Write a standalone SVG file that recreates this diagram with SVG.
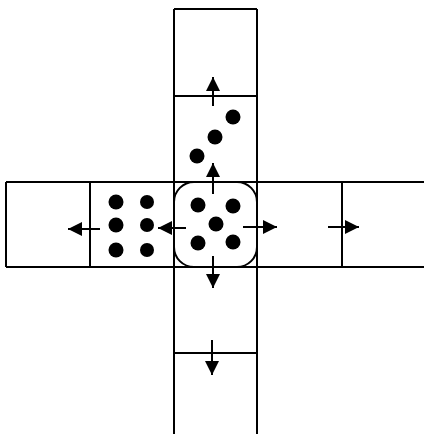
<svg xmlns="http://www.w3.org/2000/svg" width="424" height="435" viewBox="0 0 424 435">
<style>
.ln{stroke:#000;stroke-width:2;fill:none}
.dot{fill:#000}
.ar{stroke:#000;stroke-width:2;fill:none;marker-end:url(#ah)}
</style>
<defs>
<marker id="ah" markerUnits="userSpaceOnUse" markerWidth="14" markerHeight="14" refX="14" refY="7" orient="auto">
<path d="M0,0 L14,7 L0,14 z" fill="#000"/>
</marker>
</defs>
<rect width="424" height="435" fill="#fff"/>
<g id="grid">
<line class="ln" x1="174" y1="9" x2="174" y2="434"/>
<line class="ln" x1="257" y1="9" x2="257" y2="434"/>
<line class="ln" x1="174" y1="9" x2="257" y2="9"/>
<line class="ln" x1="174" y1="96" x2="257" y2="96"/>
<line class="ln" x1="174" y1="353" x2="257" y2="353"/>
<line class="ln" x1="6" y1="182" x2="424" y2="182"/>
<line class="ln" x1="6" y1="267" x2="424" y2="267"/>
<line class="ln" x1="6" y1="182" x2="6" y2="267"/>
<line class="ln" x1="90" y1="182" x2="90" y2="267"/>
<line class="ln" x1="342" y1="182" x2="342" y2="267"/>
</g>
<g id="center">
<rect class="ln" x="174" y="182" width="83" height="85" rx="20"/>
<circle class="dot" cx="198" cy="205" r="7.5"/>
<circle class="dot" cx="233" cy="206" r="7.5"/>
<circle class="dot" cx="216" cy="224" r="7.5"/>
<circle class="dot" cx="198" cy="243" r="7.5"/>
<circle class="dot" cx="233" cy="242" r="7.5"/>
</g>
<g id="top-cell">
<circle class="dot" cx="233" cy="117" r="7.5"/>
<circle class="dot" cx="215" cy="137" r="7.5"/>
<circle class="dot" cx="197" cy="156" r="7.5"/>
</g>
<g id="left-cell">
<circle class="dot" cx="116" cy="202" r="7.5"/>
<circle class="dot" cx="147" cy="202" r="7"/>
<circle class="dot" cx="116" cy="225" r="7.5"/>
<circle class="dot" cx="147" cy="225" r="7"/>
<circle class="dot" cx="116" cy="250" r="7.5"/>
<circle class="dot" cx="147" cy="250" r="7"/>
</g>
<g id="connectors">
<line class="ar" x1="213" y1="194" x2="213" y2="163"/>
<line class="ar" x1="213" y1="106" x2="213" y2="77"/>
<line class="ar" x1="186" y1="228" x2="158" y2="228"/>
<line class="ar" x1="100" y1="229" x2="68" y2="229"/>
<line class="ar" x1="243" y1="227" x2="277" y2="227"/>
<line class="ar" x1="328" y1="227" x2="359" y2="227"/>
<line class="ar" x1="213" y1="256" x2="213" y2="288"/>
<line class="ar" x1="212" y1="340" x2="212" y2="375"/>
</g>
</svg>
